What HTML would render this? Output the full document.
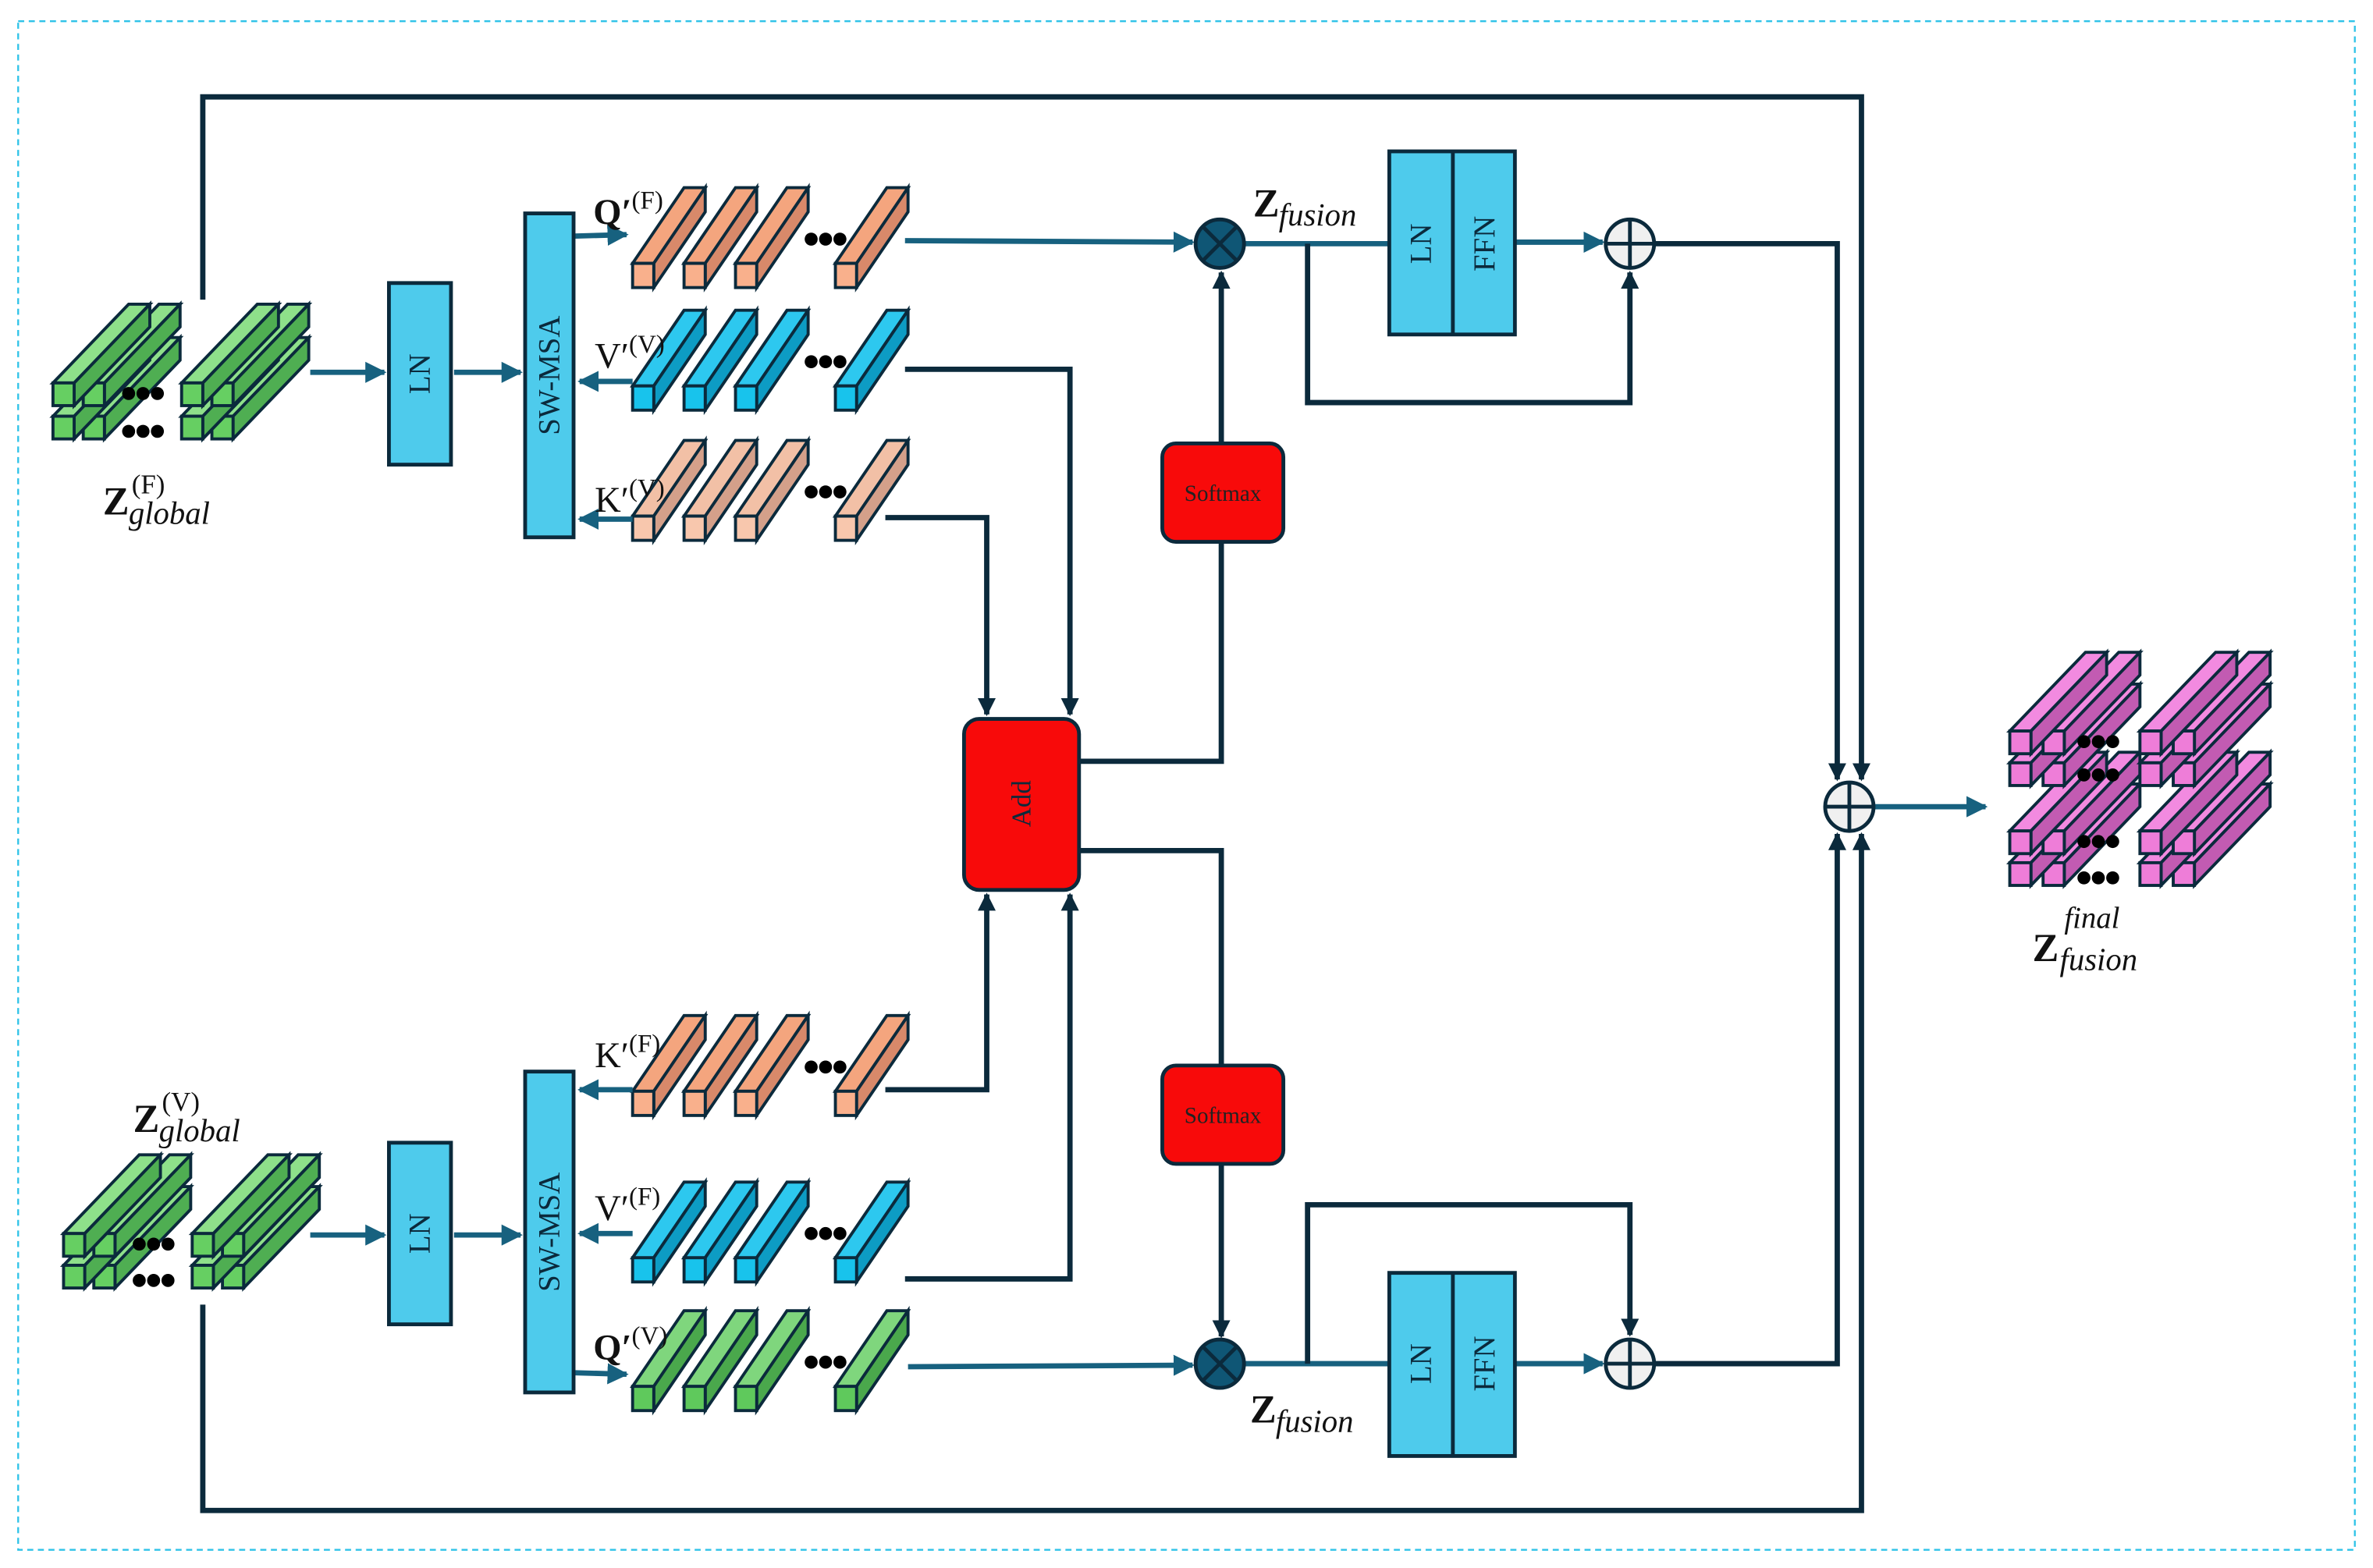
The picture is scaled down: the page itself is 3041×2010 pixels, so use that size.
<!DOCTYPE html>
<html><head><meta charset="utf-8"><style>
html,body{margin:0;padding:0;background:#fff}
svg{display:block}
text{font-family:"Liberation Serif",serif}
</style></head><body>
<svg id="s" width="3041" height="2010" viewBox="0 0 1568 1036" preserveAspectRatio="none" xmlns="http://www.w3.org/2000/svg">
<defs>
<marker id="at" viewBox="0 0 10 10" refX="9" refY="5" markerWidth="4" markerHeight="4" orient="auto" markerUnits="strokeWidth"><path d="M0,0L10,5L0,10z" fill="#17617f"/></marker>
<marker id="ad" viewBox="0 0 10 10" refX="9" refY="5" markerWidth="3.4" markerHeight="3.4" orient="auto" markerUnits="strokeWidth"><path d="M0,0L10,5L0,10z" fill="#0b2a3c"/></marker>
</defs>
<rect x="12" y="14" width="1544" height="1010" fill="none" stroke="#2fc3e8" stroke-width="1.2" stroke-dasharray="4,3"/>
<g id="g"></g>
</svg>
<script>
var o='';
function L(p,c,m){o+='<polyline points="'+p+'" fill="none" stroke="'+(c?'#17617f':'#0b2a3c')+'" stroke-width="3.5" stroke-linejoin="miter" '+(m?'marker-end="url(#'+(c?'at':'ad')+')"':'')+'/>';}
function bar(x,y,w,h,dx,dy,top,side,front){
 o+='<polygon points="'+x+','+y+' '+(x+dx)+','+(y+dy)+' '+(x+dx+w)+','+(y+dy)+' '+(x+w)+','+y+'" fill="'+top+'" stroke="#0b2a3c" stroke-width="2"/>';
 o+='<polygon points="'+(x+w)+','+y+' '+(x+w+dx)+','+(y+dy)+' '+(x+w+dx)+','+(y+dy+h)+' '+(x+w)+','+(y+h)+'" fill="'+side+'" stroke="#0b2a3c" stroke-width="2"/>';
 o+='<rect x="'+x+'" y="'+y+'" width="'+w+'" height="'+h+'" fill="'+front+'" stroke="#0b2a3c" stroke-width="2"/>';
}
function dots(x,y){for(var i=0;i<3;i++)o+='<circle cx="'+(x+i*9.5)+'" cy="'+y+'" r="4.3" fill="#000"/>';}
function row(y,c){[418,452,486].forEach(function(x){bar(x,y,14,16,34,-50,c[0],c[1],c[2]);});dots(536,y-16);bar(552,y,14,16,34,-50,c[0],c[1],c[2]);}
var OR=['#f4a57e','#d8896a','#f9b08c'],BL=['#2dc8ef','#0d9cc4','#18c3ec'],KR=['#f2c0a6','#d4a08a','#f8c7ad'],GR=['#7fd67d','#4aa84c','#5fc95c'];
row(174,OR);row(255,BL);row(341,KR);
row(721,OR);row(831,BL);row(916,GR);
function stack(xs,ys,c,dx,dy,dx1){
 for(var r=ys.length-1;r>=0;r--)for(var i=xs.length-1;i>=0;i--)bar(xs[i],ys[r],14,15,dx,dy,c[0],c[1],c[2]);
 if(dx1!==undefined){dots(xs[1]+dx1,ys[0]+7);dots(xs[1]+dx1,ys[1]+10);}
}
var GG=['#8ee08a','#4fae52','#66cf62'];
stack([35,55,120,140],[253,275],GG,50,-52,30);
stack([42,62,127,147],[815,836],GG,50,-52,30);
var PK=['#f28ae0','#c25bb2','#ee7dd8'];
stack([1414,1436],[549,570],PK,50,-52);
stack([1328,1350],[549,570],PK,50,-52);
dots(1377,556);dots(1377,580);
stack([1414,1436],[483,504],PK,50,-52);
stack([1328,1350],[483,504],PK,50,-52);
dots(1377,490);dots(1377,512);
L('134,198 134,64 1230,64 1230,515',0,1);
L('134,862 134,998 1230,998 1230,551',0,1);
L('1094,161 1214,161 1214,515',0,1);
L('1094,901 1214,901 1214,551',0,1);
L('1238,533 1312,533',1,1);
L('205,246 254,246',1,1);L('300,246 344,246',1,1);
L('380,156 414,155',1,1);L('418,252 383,252',1,1);L('418,343 383,343',1,1);
L('598,159 788,160',1,1);
L('822,161 918,161',1);
L('864,161 864,266 1077,266 1077,180',0,1);
L('1001,160 1059,160',1,1);
L('598,244 707,244 707,472',0,1);L('585,342 652,342 652,472',0,1);
L('713,503 807,503 807,180',0,1);
L('205,816 254,816',1,1);L('300,816 344,816',1,1);
L('418,720 383,720',1,1);L('418,815 383,815',1,1);L('380,907 414,908',1,1);
L('600,903 788,902',1,1);
L('822,901 918,901',1);
L('864,901 864,796 1077,796 1077,882',0,1);
L('1001,901 1059,901',1,1);
L('585,720 652,720 652,591',0,1);L('598,845 707,845 707,591',0,1);
L('713,562 807,562 807,883',0,1);
function box(x,y,w,h,f,rx){o+='<rect x="'+x+'" y="'+y+'" width="'+w+'" height="'+h+'" rx="'+(rx||0)+'" fill="'+f+'" stroke="#0b2a3c" stroke-width="2.5"/>';}
function vt(x,y,t,s){o+='<text x="'+x+'" y="'+y+'" font-size="'+s+'" text-anchor="middle" transform="rotate(-90 '+x+' '+y+')" dominant-baseline="central" fill="#0b2a3c">'+t+'</text>';}
var CY='#4ecbec';
box(257,187,41,120,CY);vt(277.5,247,'LN',20);
box(347,141,32,214,CY);vt(363,248,'SW-MSA',20);
box(257,755,41,120,CY);vt(277.5,815,'LN',20);
box(347,708,32,212,CY);vt(363,814,'SW-MSA',20);
box(918,100,83,121,CY);o+='<line x1="960" y1="100" x2="960" y2="221" stroke="#0b2a3c" stroke-width="2.5"/>';vt(939,161,'LN',20);vt(981,161,'FFN',20);
box(918,841,83,121,CY);o+='<line x1="960" y1="841" x2="960" y2="962" stroke="#0b2a3c" stroke-width="2.5"/>';vt(939,901,'LN',20);vt(981,901,'FFN',20);
box(768,293,80,65,'#f80a0a',9);o+='<text x="808" y="331" font-size="15" text-anchor="middle" fill="#222">Softmax</text>';
box(768,704,80,65,'#f80a0a',9);o+='<text x="808" y="742" font-size="15" text-anchor="middle" fill="#222">Softmax</text>';
box(637,475,76,113,'#f80a0a',10);vt(675,531,'Add',18);
function mul(x,y){o+='<circle cx="'+x+'" cy="'+y+'" r="16" fill="#0f5675" stroke="#0b2a3c" stroke-width="2.5"/><path d="M'+(x-11)+','+(y-11)+'L'+(x+11)+','+(y+11)+'M'+(x+11)+','+(y-11)+'L'+(x-11)+','+(y+11)+'" stroke="#0b2a3c" stroke-width="2.5"/>';}
function add(x,y){o+='<circle cx="'+x+'" cy="'+y+'" r="16" fill="#f0f0f0" stroke="#0b2a3c" stroke-width="2.5"/><path d="M'+(x-16)+','+y+'H'+(x+16)+'M'+x+','+(y-16)+'V'+(y+16)+'" stroke="#0b2a3c" stroke-width="2.5"/>';}
mul(806,161);mul(806,901);add(1077,161);add(1077,901);add(1222,533);
function lab(x,y,b,sup,bold){o+='<text x="'+x+'" y="'+y+'" font-size="24" fill="#111"'+(bold?' font-weight="bold"':'')+'>'+b+'<tspan font-weight="normal" font-size="17" dy="-10">'+sup+'</tspan></text>';}
lab(392,148,'Q′','(F)',1);lab(393,243,'V′','(V)');lab(393,338,'K′','(V)');
lab(393,705,'K′','(F)');lab(393,806,'V′','(F)');lab(392,898,'Q′','(V)',1);
function z(x,y,sub,sup){o+='<text x="'+x+'" y="'+y+'" font-size="26" font-weight="bold" fill="#111">Z</text><text x="'+(x+17)+'" y="'+(y+6)+'" font-size="21" font-style="italic" fill="#111">'+sub+'</text>';if(sup)o+='<text x="'+(x+19)+'" y="'+(y-14)+'" font-size="18" fill="#111">'+sup+'</text>';}
z(68,340,'global','(F)');z(88,748,'global','(V)');
z(828,143,'fusion');z(826,940,'fusion');
o+='<text x="1343" y="635" font-size="26" font-weight="bold" fill="#111">Z</text><text x="1361" y="641" font-size="21" font-style="italic" fill="#111">fusion</text><text x="1364" y="613" font-size="20" font-style="italic" fill="#111">final</text>';
document.getElementById('g').innerHTML=o;
</script>
</body></html>
